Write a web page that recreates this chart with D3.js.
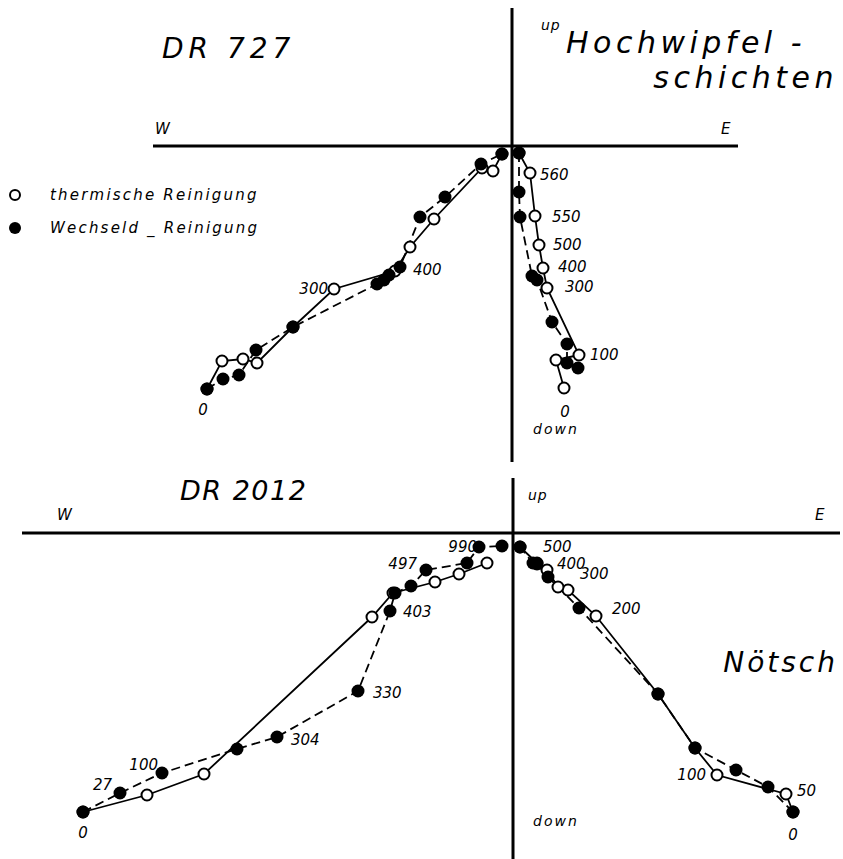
<!DOCTYPE html>
<html>
<head>
<meta charset="utf-8">
<script src="https://cdn.jsdelivr.net/npm/d3@7/dist/d3.min.js"></script>
<style>
  body { margin: 0; background: #fff; }
  text { font-family: "DejaVu Sans", sans-serif; font-style: italic; fill: #000; }
</style>
</head>
<body>
<div id="chart"></div>
<script>
// Zijderveld diagrams, components as [E (+) / W (-), up (+) / down (-)] in arbitrary units
// DR 727 - Hochwipfelschichten
const dr727ThermLeft = [[-305,-243],[-290,-215],[-269,-213],[-255,-217],[-219,-181],[-178,-143],[-117,-125],[-102,-101],[-78,-73],[-30,-22],[-19,-25],[-10,-8]];
const dr727AfLeft = [[-305,-243],[-289,-233],[-273,-229],[-256,-204],[-219,-181],[-135,-138],[-128,-134],[-123,-129],[-112,-121],[-92,-71],[-67,-51],[-31,-18],[-10,-8]];
const dr727ThermRight = [[52,-242],[44,-214],[67,-209],[35,-142],[31,-122],[27,-99],[23,-70],[18,-27],[7,-7]];
const dr727AfRight = [[66,-222],[55,-217],[55,-198],[40,-176],[25,-134],[20,-130],[8,-71],[7,-46],[7,-7]];

// DR 2012 - Noetsch
const dr2012ThermLeft = [[-430,-279],[-366,-262],[-309,-241],[-141,-84],[-120,-60],[-78,-49],[-54,-41],[-26,-30]];
const dr2012AfLeft = [[-430,-279],[-393,-260],[-351,-240],[-276,-216],[-236,-204],[-155,-158],[-123,-78],[-118,-60],[-102,-53],[-87,-37],[-46,-30],[-34,-14],[-11,-13]];
const dr2012ThermRight = [[280,-279],[273,-261],[204,-242],[182,-215],[145,-161],[83,-83],[55,-57],[45,-54],[34,-37],[24,-30],[7,-14]];
const dr2012AfRight = [[280,-279],[255,-254],[223,-237],[182,-215],[145,-161],[66,-75],[35,-44],[24,-31],[20,-30],[7,-14]];

// step labels (demagnetisation steps)
const dr727Labels = [
  { s: 'thermLeft', i: 5, t: '300', dx: -6, dy: 5, a: 'end' },
  { s: 'afLeft', i: 8, t: '400', dx: 13, dy: 8, a: 'start' },
  { s: 'afLeft', i: 0, t: '0', dx: -4, dy: 26, a: 'middle' },
  { s: 'thermRight', i: 7, t: '560', dx: 10, dy: 7, a: 'start' },
  { s: 'thermRight', i: 6, t: '550', dx: 17, dy: 6, a: 'start' },
  { s: 'thermRight', i: 5, t: '500', dx: 14, dy: 5, a: 'start' },
  { s: 'thermRight', i: 4, t: '400', dx: 15, dy: 4, a: 'start' },
  { s: 'thermRight', i: 3, t: '300', dx: 18, dy: 4, a: 'start' },
  { s: 'thermRight', i: 2, t: '100', dx: 11, dy: 5, a: 'start' },
  { s: 'thermRight', i: 0, t: '0', dx: 1, dy: 29, a: 'middle' }
];
const dr2012Labels = [
  { s: 'afLeft', i: 11, t: '990', dx: -2, dy: 5, a: 'end' },
  { s: 'afLeft', i: 9, t: '497', dx: -9, dy: -1, a: 'end' },
  { s: 'afLeft', i: 6, t: '403', dx: 13, dy: 6, a: 'start' },
  { s: 'afLeft', i: 5, t: '330', dx: 15, dy: 7, a: 'start' },
  { s: 'afLeft', i: 4, t: '304', dx: 14, dy: 8, a: 'start' },
  { s: 'afLeft', i: 2, t: '100', dx: -4, dy: -3, a: 'end' },
  { s: 'afLeft', i: 1, t: '27', dx: -8, dy: -3, a: 'end' },
  { s: 'afLeft', i: 0, t: '0', dx: 0, dy: 26, a: 'middle' },
  { s: 'thermRight', i: 9, t: '500', dx: 6, dy: -11, a: 'start' },
  { s: 'thermRight', i: 8, t: '400', dx: 10, dy: -1, a: 'start' },
  { s: 'thermRight', i: 7, t: '300', dx: 22, dy: -8, a: 'start' },
  { s: 'thermRight', i: 5, t: '200', dx: 16, dy: -2, a: 'start' },
  { s: 'thermRight', i: 2, t: '100', dx: -11, dy: 5, a: 'end' },
  { s: 'thermRight', i: 1, t: '50', dx: 11, dy: 2, a: 'start' },
  { s: 'thermRight', i: 0, t: '0', dx: 0, dy: 28, a: 'middle' }
];

const width = 843, height = 859;

const svg = d3.select('#chart')
  .append('svg')
  .attr('width', width)
  .attr('height', height);

function drawPanel(p) {
  const x = d3.scaleLinear().domain(p.xDomain).range(p.xRange);
  const y = d3.scaleLinear().domain(p.yDomain).range(p.yRange);
  const g = svg.append('g');

  // axes through the origin
  g.append('line')
    .attr('x1', x(p.xDomain[0])).attr('x2', x(p.xDomain[1]))
    .attr('y1', y(0)).attr('y2', y(0))
    .attr('stroke', '#000').attr('stroke-width', 3);
  g.append('line')
    .attr('x1', x(0)).attr('x2', x(0))
    .attr('y1', y(p.yDomain[0])).attr('y2', y(p.yDomain[1]))
    .attr('stroke', '#000').attr('stroke-width', 3);

  const line = d3.line().x(d => x(d[0])).y(d => y(d[1]));

  const series = p.series;
  Object.keys(series).forEach(k => {
    g.append('path')
      .datum(series[k])
      .attr('fill', 'none')
      .attr('stroke', '#000')
      .attr('stroke-width', 1.8)
      .attr('stroke-dasharray', k.startsWith('af') ? '9,5' : null)
      .attr('d', line);
  });

  // open circles first, filled on top
  ['thermLeft', 'thermRight', 'afLeft', 'afRight'].forEach(k => {
    const open = k.startsWith('therm');
    g.append('g')
      .selectAll('circle')
      .data(series[k])
      .enter()
      .append('circle')
      .attr('cx', d => x(d[0]))
      .attr('cy', d => y(d[1]))
      .attr('r', open ? 5.5 : 6.5)
      .attr('fill', open ? '#fff' : '#000')
      .attr('stroke', '#000')
      .attr('stroke-width', open ? 2 : 0);
  });

  g.append('g')
    .selectAll('text')
    .data(p.labels)
    .enter()
    .append('text')
    .attr('x', d => x(series[d.s][d.i][0]) + d.dx)
    .attr('y', d => y(series[d.s][d.i][1]) + d.dy)
    .attr('text-anchor', d => d.a)
    .style('font-size', '15px')
    .text(d => d.t);

  return { x, y, g };
}

const topPanel = drawPanel({
  xDomain: [-359, 226], xRange: [153, 738],
  yDomain: [-316, 138], yRange: [462, 8],
  series: { thermLeft: dr727ThermLeft, afLeft: dr727AfLeft, thermRight: dr727ThermRight, afRight: dr727AfRight },
  labels: dr727Labels
});

const bottomPanel = drawPanel({
  xDomain: [-491, 327], xRange: [22, 840],
  yDomain: [-326, 55], yRange: [859, 478],
  series: { thermLeft: dr2012ThermLeft, afLeft: dr2012AfLeft, thermRight: dr2012ThermRight, afRight: dr2012AfRight },
  labels: dr2012Labels
});

function label(x, y, t, size, spacing, anchor) {
  svg.append('text')
    .attr('x', x).attr('y', y)
    .attr('text-anchor', anchor || 'start')
    .style('font-size', size + 'px')
    .style('letter-spacing', spacing + 'px')
    .text(t);
}

// top panel annotations
label(162, 58, 'DR 727', 28, 5);
label(566, 53, 'Hochwipfel -', 30, 4.5);
label(838, 88, 'schichten', 30, 4.5, 'end');
label(topPanel.x(0) + 29, 30, 'up', 14, 1);
label(topPanel.x(0) + 21, 434, 'down', 14, 2);
label(155, 134, 'W', 15, 0);
label(721, 134, 'E', 15, 0);

// legend
svg.append('circle').attr('cx', 15).attr('cy', 195).attr('r', 5).attr('fill', '#fff').attr('stroke', '#000').attr('stroke-width', 2);
svg.append('circle').attr('cx', 15).attr('cy', 228).attr('r', 6).attr('fill', '#000');
label(50, 200, 'thermische Reinigung', 15, 2.2);
label(50, 233, 'Wechseld _ Reinigung', 15, 2.2);

// bottom panel annotations
label(180, 500, 'DR 2012', 27, 1.5);
label(bottomPanel.x(0) + 15, 500, 'up', 14, 1);
label(57, 520, 'W', 15, 0);
label(815, 520, 'E', 15, 0);
label(838, 672, 'Nötsch', 28, 3, 'end');
label(bottomPanel.x(0) + 20, 826, 'down', 14, 2);
</script>
</body>
</html>
